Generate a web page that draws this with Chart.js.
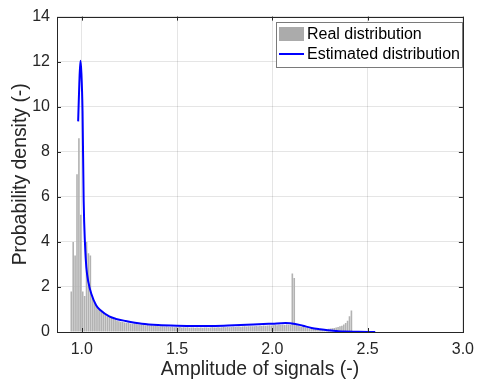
<!DOCTYPE html>
<html>
<head>
<meta charset="utf-8">
<script src="https://cdn.jsdelivr.net/npm/chart.js@4"></script>
<style>
  body { margin: 0; background: #fff; }
  canvas { display: block; }
</style>
</head>
<body>
<canvas id="chart" width="482" height="385"></canvas>
<script>
// Histogram: bins of width 0.01 starting at 0.94
const binStart = 0.94;
const binWidth = 0.01;
const histHeights = [
    1.8, 4.0, 3.4, 7.0, 8.6, 5.2, 1.8, 1.6, 4.0, 3.5,
    3.4, 1.6, 1.4, 1.2, 1.1, 1.0, 0.9, 0.85, 0.75, 0.7,
    0.65, 0.62, 0.58, 0.55, 0.5, 0.48, 0.45, 0.44, 0.42, 0.40,
    0.41, 0.38, 0.37, 0.38, 0.35, 0.34, 0.33, 0.32, 0.33, 0.30,
    0.31, 0.29, 0.30, 0.28, 0.29, 0.27, 0.26, 0.25, 0.26, 0.24,
    0.25, 0.23, 0.22, 0.23, 0.21, 0.22, 0.21, 0.22, 0.20, 0.21,
    0.20, 0.21, 0.19, 0.20, 0.20, 0.19, 0.20, 0.19, 0.20, 0.19,
    0.20, 0.20, 0.19, 0.20, 0.21, 0.20, 0.20, 0.21, 0.20, 0.21,
    0.22, 0.21, 0.22, 0.21, 0.22, 0.23, 0.22, 0.23, 0.24, 0.23,
    0.24, 0.25, 0.24, 0.25, 0.26, 0.25, 0.26, 0.27, 0.26, 0.28,
    0.27, 0.29, 0.28, 0.29, 0.30, 0.29, 0.30, 0.31, 0.30, 0.32,
    0.31, 0.32, 0.31, 0.33, 0.32, 0.31, 2.6, 2.4, 0.30, 0.28,
    0.26, 0.24, 0.22, 0.20, 0.18, 0.16, 0.15, 0.14, 0.13, 0.12,
    0.11, 0.11, 0.12, 0.12, 0.13, 0.14, 0.15, 0.17, 0.18, 0.20,
    0.22, 0.25, 0.28, 0.33, 0.40, 0.50, 0.70, 0.95
];

// Estimated density curve
const curveX = [
    0.981, 0.987, 0.993, 0.998, 1.004, 1.010, 1.017, 1.024, 1.035, 1.05,
    1.076, 1.10, 1.144, 1.18, 1.23, 1.315, 1.40, 1.50, 1.60, 1.70,
    1.80, 1.90, 2.00, 2.07, 2.12, 2.16, 2.206, 2.25, 2.29, 2.34,
    2.377, 2.45, 2.54
];
const curveY = [
    9.35, 11.0, 12.04, 11.5, 9.8, 5.8, 3.9, 2.87, 2.2, 1.7,
    1.18, 0.95, 0.69, 0.58, 0.49, 0.37, 0.31, 0.28, 0.27, 0.27,
    0.30, 0.33, 0.37, 0.40, 0.36, 0.28, 0.18, 0.12, 0.075, 0.04,
    0.02, 0.01, 0.0
];

const xTicks = [1.0, 1.5, 2.0, 2.5, 3.0];
const yTicks = [0, 2, 4, 6, 8, 10, 12, 14];

const FONT = "Arial, 'Liberation Sans', sans-serif";
const TEXT = '#262626';
const BAR_COLOR = '#b2b2b2';
const LINE_COLOR = '#0000ff';
const GRID = 'rgba(38,38,38,0.12)';

const histData = histHeights.map((h, i) => ({ x: binStart + binWidth * (i + 0.5), y: h }));
const curveData = curveX.map((x, i) => ({ x: x, y: curveY[i] }));

// MATLAB style box, inward ticks and legend
const boxPlugin = {
    id: 'box',
    afterDraw(chart) {
        const { ctx, chartArea: a, scales } = chart;
        const t = 4;
        ctx.save();
        ctx.strokeStyle = TEXT;
        ctx.lineWidth = 1;
        ctx.beginPath();
        xTicks.forEach(v => {
            const px = Math.round(scales.x.getPixelForValue(v)) + 0.5;
            ctx.moveTo(px, a.bottom); ctx.lineTo(px, a.bottom - t);
            ctx.moveTo(px, a.top); ctx.lineTo(px, a.top + t);
        });
        yTicks.forEach(v => {
            const py = Math.round(scales.y.getPixelForValue(v)) + 0.5;
            ctx.moveTo(a.left, py); ctx.lineTo(a.left + t, py);
            ctx.moveTo(a.right, py); ctx.lineTo(a.right - t, py);
        });
        ctx.stroke();
        ctx.strokeRect(Math.round(a.left) + 0.5, Math.round(a.top) + 0.5,
            Math.round(a.right - a.left), Math.round(a.bottom - a.top));

        // legend
        const lx = 276, ly = 22, lw = 186, lh = 45;
        ctx.fillStyle = '#fff';
        ctx.fillRect(lx, ly, lw, lh);
        ctx.strokeStyle = '#7a7a7a';
        ctx.strokeRect(lx + 0.5, ly + 0.5, lw, lh);
        const ds = chart.data.datasets;
        ctx.fillStyle = '#ababab';
        ctx.fillRect(lx + 3, ly + 5, 25, 14);
        ctx.strokeStyle = LINE_COLOR;
        ctx.lineWidth = 2;
        ctx.beginPath();
        ctx.moveTo(lx + 3, ly + 32); ctx.lineTo(lx + 28, ly + 32);
        ctx.stroke();
        ctx.fillStyle = '#000';
        ctx.font = '16px ' + FONT;
        ctx.textBaseline = 'middle';
        ctx.fillText(ds[0].label, lx + 31, ly + 12.5);
        ctx.fillText(ds[1].label, lx + 31, ly + 32.5);
        ctx.restore();
    }
};

new Chart(document.getElementById('chart'), {
    data: {
        datasets: [
            {
                type: 'bar',
                label: 'Real distribution',
                data: histData,
                backgroundColor: BAR_COLOR,
                categoryPercentage: 1.0,
                barPercentage: 0.85,
                order: 2
            },
            {
                type: 'line',
                label: 'Estimated distribution',
                data: curveData,
                borderColor: LINE_COLOR,
                borderWidth: 2,
                pointRadius: 0,
                cubicInterpolationMode: 'monotone',
                fill: false,
                order: 1
            }
        ]
    },
    options: {
        responsive: false,
        animation: false,
        layout: { padding: { top: 15, right: 12, left: 0, bottom: 0 } },
        plugins: { legend: { display: false }, tooltip: { enabled: false } },
        scales: {
            x: {
                type: 'linear',
                min: 0.87,
                max: 3.0,
                offset: false,
                grid: { color: GRID, drawTicks: false, offset: false },
                border: { display: false },
                afterBuildTicks: (s) => { s.ticks = xTicks.map(v => ({ value: v })); },
                afterFit: (s) => { s.height = 53; },
                ticks: {
                    padding: 8,
                    color: TEXT,
                    font: { family: FONT, size: 16 },
                    callback: (v) => v.toFixed(1)
                },
                title: {
                    display: true,
                    text: 'Amplitude of signals (-)',
                    color: TEXT,
                    font: { family: FONT, size: 19.4 },
                    padding: { top: 0, bottom: 4 }
                }
            },
            y: {
                min: 0,
                max: 14,
                grid: { color: GRID, drawTicks: false },
                border: { display: false },
                afterBuildTicks: (s) => { s.ticks = yTicks.map(v => ({ value: v })); },
                afterFit: (s) => { s.width = 57; },
                ticks: {
                    padding: 7,
                    color: TEXT,
                    font: { family: FONT, size: 16 }
                },
                title: {
                    display: true,
                    text: 'Probability density (-)',
                    color: TEXT,
                    font: { family: FONT, size: 19.4 },
                    padding: { top: 9, bottom: 0 }
                }
            }
        }
    },
    plugins: [boxPlugin]
});
</script>
</body>
</html>
